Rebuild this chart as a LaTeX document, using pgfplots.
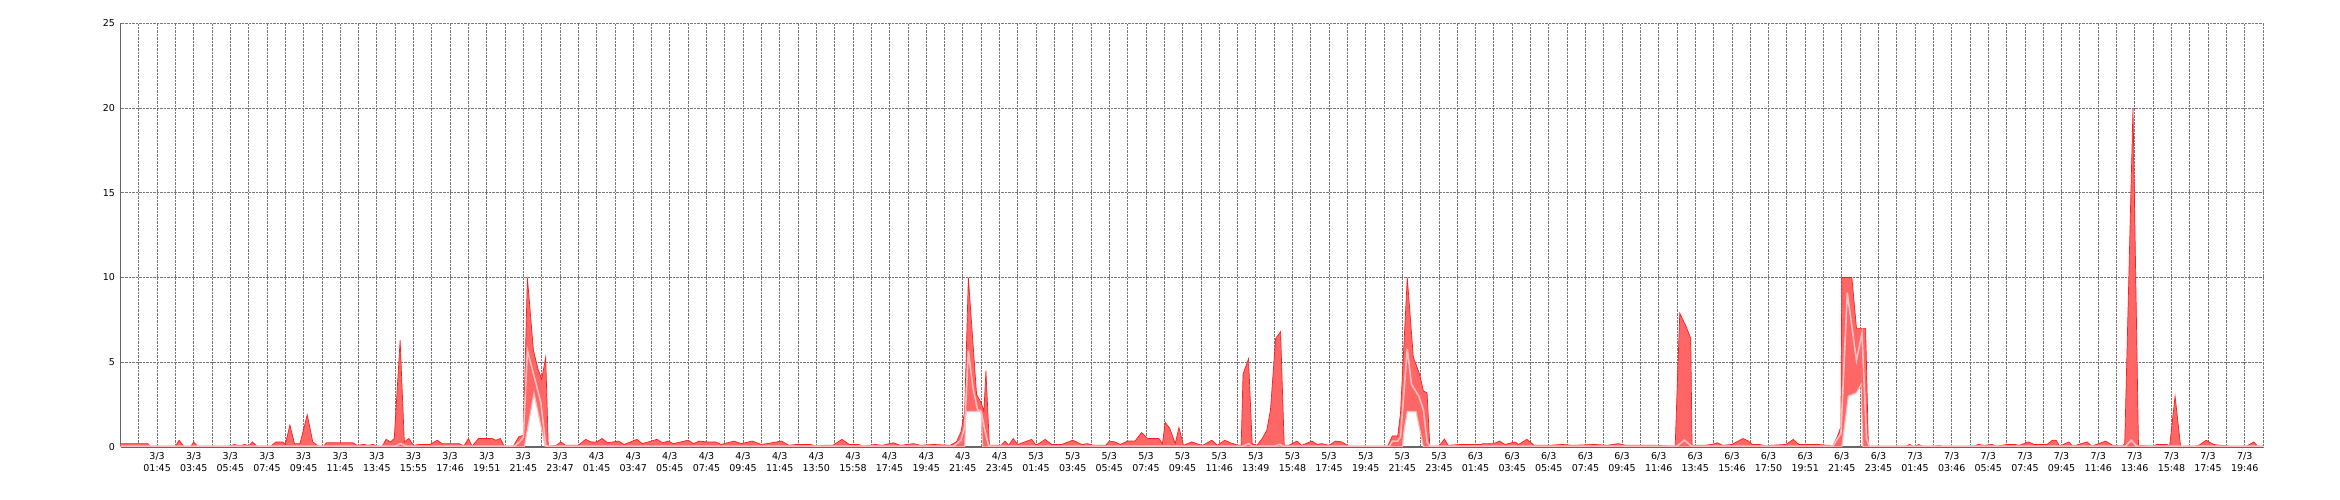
\documentclass[border=0pt]{standalone}
\usepackage{pgfplots}
\pgfplotsset{compat=1.18}
\usepgfplotslibrary{fillbetween}
\usepackage{fontspec}
\setmainfont{DejaVu Sans}
\definecolor{maxred}{RGB}{255,30,30}
\definecolor{fillred}{RGB}{255,102,102}
\definecolor{avgpink}{RGB}{255,190,190}
\definecolor{gridgray}{RGB}{120,120,120}
\begin{document}
\begin{tikzpicture}
\begin{axis}[
 at={(0,0)}, anchor=south west,
 scale only axis, width=2142.5bp, height=423.7bp,
 set layers,
 xmin=0, xmax=117, ymin=0, ymax=25,
 axis x line=bottom, axis y line=left,
 axis line style={-, black!60, line width=1.2bp},
 xtick={2,4,...,116}, minor xtick={1,3,...,117},
 xticklabels={{3/3\\01:45},{3/3\\03:45},{3/3\\05:45},{3/3\\07:45},{3/3\\09:45},{3/3\\11:45},{3/3\\13:45},{3/3\\15:55},{3/3\\17:46},{3/3\\19:51},{3/3\\21:45},{3/3\\23:47},
 {4/3\\01:45},{4/3\\03:47},{4/3\\05:45},{4/3\\07:45},{4/3\\09:45},{4/3\\11:45},{4/3\\13:50},{4/3\\15:58},{4/3\\17:45},{4/3\\19:45},{4/3\\21:45},{4/3\\23:45},
 {5/3\\01:45},{5/3\\03:45},{5/3\\05:45},{5/3\\07:45},{5/3\\09:45},{5/3\\11:46},{5/3\\13:49},{5/3\\15:48},{5/3\\17:45},{5/3\\19:45},{5/3\\21:45},{5/3\\23:45},
 {6/3\\01:45},{6/3\\03:45},{6/3\\05:45},{6/3\\07:45},{6/3\\09:45},{6/3\\11:46},{6/3\\13:45},{6/3\\15:46},{6/3\\17:50},{6/3\\19:51},{6/3\\21:45},{6/3\\23:45},
 {7/3\\01:45},{7/3\\03:46},{7/3\\05:45},{7/3\\07:45},{7/3\\09:45},{7/3\\11:46},{7/3\\13:46},{7/3\\15:48},{7/3\\17:45},{7/3\\19:46}},
 ytick={0,5,...,25},
 major tick length=0, minor tick length=0,
 grid=both,
 major grid style={gridgray, densely dotted, line width=0.8bp},
 minor grid style={gridgray, densely dotted, line width=0.8bp},
 tick label style={font=\fontsize{9.5bp}{12bp}\selectfont},
 xticklabel style={align=center, yshift=-2bp},
 yticklabel style={xshift=-2bp},
 /pgf/number format/assume math mode=true,
]
\addplot[name path=maxp, draw=maxred, line width=0.7bp] coordinates {
(0,0.2) (1.5,0.2) (1.6,0.05) (3.0,0.05) (3.2,0.4) (3.45,0.05) (3.85,0.05) (4.0,0.3) (4.2,0.05) (6.0,0.05) (6.2,0.15) (6.4,0.1) (6.6,0.1) (6.8,0.15) (7.0,0.05) (7.2,0.3) (7.45,0.05) (8.2,0.05) (8.5,0.3) (8.85,0.3) (9.0,0.15) (9.25,1.3) (9.5,0.2) (9.8,0.2) (10.2,1.9) (10.5,0.3) (10.8,0.05) (11.1,0.05) (11.25,0.25) (12.7,0.25) (12.9,0.1) (13.3,0.15) (13.5,0.1) (13.8,0.15) (14.0,0.05) (14.3,0.05) (14.5,0.45) (14.75,0.3) (14.95,0.5) (15.27,6.3) (15.5,0.3) (15.75,0.5) (16.0,0.1) (16.3,0.15) (16.9,0.15) (17.3,0.4) (17.55,0.2) (18.5,0.2) (18.75,0.05) (19.0,0.5) (19.2,0.05) (19.55,0.5) (20.3,0.5) (20.5,0.4) (20.75,0.5) (20.95,0.05) (21.45,0.05) (21.75,0.6) (22.0,0.7) (22.22,10) (22.55,5.7) (22.8,4.6) (23.0,4.0) (23.22,5.3) (23.36,0.05) (23.8,0.1) (24.05,0.3) (24.3,0.1) (25.0,0.1)
(25.4,0.45) (25.7,0.3) (26.0,0.3) (26.3,0.5) (26.6,0.25) (27.2,0.35) (27.5,0.15) (28.2,0.45) (28.5,0.2) (29.3,0.45) (29.6,0.25) (29.9,0.35) (30.2,0.2) (31.0,0.4) (31.3,0.2) (31.6,0.35) (32.0,0.3) (32.5,0.3) (32.8,0.15) (33.5,0.35) (33.9,0.2) (34.5,0.35) (35.0,0.15) (35.3,0.2) (36.1,0.35) (36.5,0.1) (36.9,0.15) (37.7,0.15) (38.0,0.05) (38.45,0.1) (38.9,0.1) (39.4,0.45) (39.8,0.15) (40.3,0.15) (40.6,0.05) (41.2,0.15) (41.6,0.1) (42.2,0.25) (42.6,0.1) (43.3,0.2) (43.7,0.1) (44.4,0.15) (45.3,0.1) (45.65,0.3) (45.9,0.9) (46.1,2.1) (46.3,10) (46.75,3.1) (47.0,2.6) (47.15,2.1) (47.26,4.5) (47.45,0.1) (48.1,0.1) (48.3,0.35) (48.5,0.1) (48.75,0.5) (49.0,0.15) (49.76,0.45) (50.0,0.1) (50.5,0.45) (50.85,0.15) (51.4,0.15) (52.0,0.4) (52.5,0.15) (52.8,0.2) (53.1,0.1) (53.8,0.1) (54.0,0.35) (54.3,0.3) (54.6,0.15) (55.0,0.35) (55.4,0.35) (55.76,0.85) (56.1,0.5) (56.7,0.5) (56.9,0.2) (57.05,1.45) (57.3,1.1) (57.6,0.2) (57.8,1.15) (58.05,0.1) (58.5,0.3) (58.9,0.15) (59.1,0.1) (59.6,0.4) (59.9,0.1) (60.3,0.4) (60.6,0.25) (61.06,0.1) (61.2,0.1) (61.3,4.3) (61.6,5.2) (61.8,0.2) (62.06,0.1) (62.35,0.5) (62.6,1.0) (62.8,2.2) (63.08,6.4) (63.35,6.8) (63.55,0.1) (63.8,0.1) (64.25,0.35) (64.5,0.1) (65.07,0.35) (65.35,0.15) (65.6,0.2) (66.0,0.1) (66.35,0.35) (66.7,0.3) (67.07,0.05) (69.2,0.05) (69.45,0.65) (69.75,0.65) (69.9,2.0) (70.27,10) (70.6,5.3) (70.94,4.3) (71.15,3.3) (71.35,3.2) (71.5,0.05) (72.0,0.05) (72.3,0.47) (72.5,0.1) (73.2,0.15) (74.3,0.15) (74.4,0.2) (75.0,0.2) (75.3,0.35) (75.6,0.15) (76.15,0.3) (76.35,0.15) (76.8,0.45) (77.2,0.1) (78.0,0.1) (78.75,0.15) (79.3,0.1) (80.5,0.15) (81.2,0.1) (81.8,0.2) (82.2,0.1) (83.0,0.1) (83.85,0.1) (84.9,0.05) (85.15,7.9) (85.5,7.1) (85.75,6.4) (85.82,0.1) (86.5,0.1) (86.9,0.15) (87.2,0.25) (87.5,0.1) (88.0,0.15) (88.6,0.5) (88.9,0.35) (89.1,0.15) (89.5,0.15) (89.9,0.05) (90.1,0.1) (90.95,0.15) (91.35,0.45) (91.65,0.15) (92.7,0.15) (93.2,0.1) (93.5,0.05) (93.75,0.6) (93.95,1.2) (94.0,10) (94.55,10) (94.8,7.0) (95.3,7.0) (95.45,0.05) (97.5,0.05) (97.7,0.15) (97.9,0.05) (98.0,0.05) (98.2,0.15) (98.4,0.05) (99.1,0.05) (99.3,0.1) (99.5,0.05) (101.2,0.05) (101.45,0.15) (101.8,0.1) (102.2,0.15) (102.45,0.05) (103.0,0.15) (103.45,0.15) (103.7,0.1) (104.2,0.3) (104.5,0.15) (105.2,0.15) (105.5,0.4) (105.7,0.4) (105.9,0.05) (106.4,0.3) (106.6,0.05) (107.4,0.3) (107.65,0.05) (108.4,0.35) (108.8,0.1) (109.3,0.05) (109.45,0.2) (109.9,20) (110.2,0.1) (111.0,0.05) (111.2,0.15) (111.75,0.15) (111.9,0.05) (112.2,3.0) (112.5,0.05) (113.3,0.05) (113.5,0.1) (113.9,0.4) (114.3,0.15) (114.7,0.1) (115.2,0.05) (116.1,0.05) (116.5,0.3) (116.7,0.05) (117,0.05)
};
\addplot[name path=minp, draw=none] coordinates {
(0,0) (22.05,0) (22.58,3.2) (23.2,0) (46.1,0) (46.18,2.1) (47.0,2.1) (47.08,0) (70.0,0) (70.1,1.0) (70.27,2.1) (70.75,2.1) (71.15,0) (94.0,0) (94.35,3.0) (94.8,3.2) (95.05,3.7) (95.15,0) (117,0)
};
\addplot[fillred, draw=none] fill between[of=maxp and minp];
\addplot[avgpink, line width=1.1bp] coordinates {
(0,0) (22.05,0) (22.58,3.2) (23.2,0) (46.1,0) (46.18,2.1) (47.0,2.1) (47.08,0) (70.0,0) (70.1,1.0) (70.27,2.1) (70.75,2.1) (71.15,0) (94.0,0) (94.35,3.0) (94.8,3.2) (95.05,3.7) (95.15,0) (117,0)
};
\addplot[avgpink, line width=1.6bp] coordinates {
(0,0.05) (15.0,0.05) (15.3,0.2) (15.6,0.05) (21.5,0.05) (21.8,0.3) (22.0,0.6) (22.22,5.7) (22.58,4.2) (22.96,2.6) (23.22,0.1) (23.35,0.05) (45.5,0.05) (45.9,0.4) (46.1,1.2) (46.3,5.7) (46.55,3.5) (46.8,2.2) (47.0,2.1) (47.2,1.0) (47.4,0.1) (47.5,0.05) (61.3,0.05) (61.6,0.2) (61.8,0.05) (63.0,0.05) (63.3,0.15) (63.5,0.05) (69.3,0.05) (69.45,0.35) (69.75,0.35) (69.9,0.6) (70.27,5.8) (70.5,3.7) (70.9,3.0) (71.15,2.2) (71.35,0.3) (71.5,0.05) (85.0,0.05) (85.4,0.4) (85.8,0.05) (93.5,0.05) (93.95,0.8) (94.3,9.1) (94.8,5.1) (95.1,6.7) (95.35,0.5) (95.5,0.05) (109.5,0.05) (109.8,0.4) (110.1,0.05) (117,0.05)
};
\end{axis}
\pgfresetboundingbox
\path (-120.5bp,-53bp) rectangle (2219.5bp,447bp);
\end{tikzpicture}
\end{document}
